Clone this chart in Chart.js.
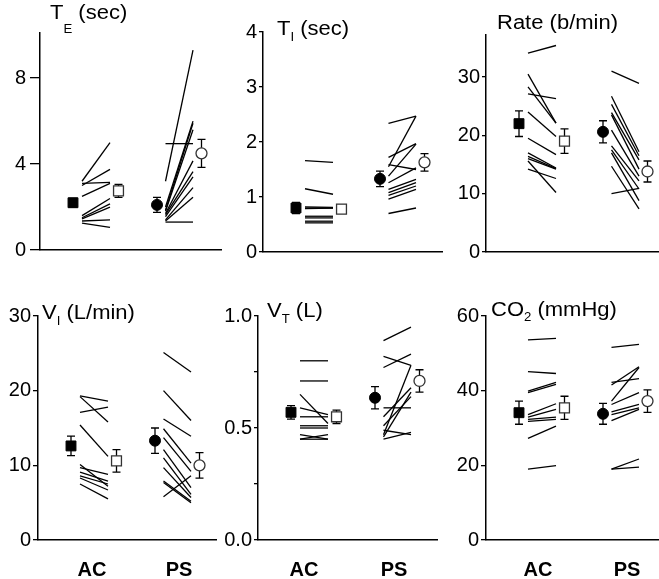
<!DOCTYPE html>
<html>
<head>
<meta charset="utf-8">
<script src="https://cdn.jsdelivr.net/npm/chart.js@4"></script>
<style>
  body { margin: 0; background: #fff; }
  #wrap { position: relative; width: 659px; height: 579px; overflow: hidden; font-family: "Liberation Sans", Arial, sans-serif; }
  canvas { position: absolute; }
  .title { position: absolute; font-size: 20px; line-height: 20px; color: #000; white-space: nowrap; transform: scaleX(1.1); transform-origin: left top; }
  .title sub { font-size: 12px; line-height: 0; }
</style>
</head>
<body>
<div id="wrap"></div>
<script>
const groups = ['AC', 'PS'];

// T_E (sec)
const teAcPre = [3.2, 3.1, 3.0, 2.5, 1.6, 1.5, 1.45, 1.35, 1.25];
const teAcPost = [5.0, 3.15, 3.75, 3.1, 2.4, 2.15, 2.0, 1.4, 1.05];
const tePsPre = [3.2, 4.95, 2.0, 1.85, 1.8, 1.7, 1.65, 1.55, 1.4, 1.35, 1.3];
const tePsPost = [9.3, 4.95, 6.0, 5.9, 5.6, 4.15, 3.65, 3.4, 2.9, 2.45, 1.3];
const teMean = [2.2, 2.75, 2.1, 4.5];
const teErr = [0.2, 0.3, 0.35, 0.65];
const teTicks = [0, 4, 8];

// T_I (sec)
const tiAcPre = [1.66, 1.15, 0.82, 0.80, 0.79, 0.65, 0.62, 0.56, 0.53];
const tiAcPost = [1.63, 1.05, 0.81, 0.80, 0.80, 0.65, 0.62, 0.56, 0.53];
const tiPsPre = [2.34, 1.55, 1.72, 1.38, 1.59, 1.26, 1.14, 1.08, 1.03, 0.96, 0.70];
const tiPsPost = [2.47, 2.47, 1.97, 1.96, 1.50, 1.53, 1.32, 1.26, 1.20, 1.14, 0.80];
const tiMean = [0.8, 0.78, 1.33, 1.63];
const tiErr = [0.1, 0.07, 0.14, 0.16];
const tiTicks = [0, 1, 2, 3, 4];

// Rate (b/min)
const rateAcPre = [34.1, 30.5, 28.3, 27.1, 24.0, 19.5, 17.0, 16.4, 16.0, 14.2, 15.6];
const rateAcPost = [35.4, 22.1, 22.1, 26.3, 19.8, 16.7, 14.4, 14.3, 14.2, 12.6, 10.2];
const ratePsPre = [31.0, 26.7, 25.3, 23.9, 23.5, 20.9, 18.2, 17.5, 17.0, 14.7, 10.0];
const ratePsPost = [28.9, 17.2, 16.5, 15.8, 14.2, 13.0, 12.2, 10.8, 8.8, 7.4, 10.9];
const rateMean = [22.0, 19.0, 20.6, 13.8];
const rateErr = [2.2, 2.1, 1.9, 1.8];
const rateTicks = [0, 10, 20, 30];

// V_I (L/min)
const viAcPre = [19.3, 19.2, 17.1, 15.4, 10.1, 9.7, 9.1, 8.6, 8.3, 7.5];
const viAcPost = [18.6, 15.8, 17.8, 11.2, 7.2, 8.8, 7.9, 7.5, 6.7, 5.5];
const viPsPre = [25.1, 20.0, 16.2, 14.9, 13.7, 12.1, 11.0, 9.7, 7.9, 5.8, 7.7];
const viPsPost = [22.5, 16.0, 13.9, 10.3, 9.2, 7.0, 6.1, 5.7, 5.2, 8.6, 5.0];
const viMean = [12.6, 10.6, 13.3, 10.0];
const viErr = [1.3, 1.5, 1.7, 1.7];
const viTicks = [0, 10, 20, 30];

// V_T (L)
const vtAcPre = [0.80, 0.71, 0.65, 0.59, 0.55, 0.51, 0.50, 0.47, 0.45, 0.45];
const vtAcPost = [0.80, 0.71, 0.52, 0.56, 0.55, 0.51, 0.50, 0.45, 0.47, 0.45];
const vtPsPre = [0.89, 0.82, 0.77, 0.59, 0.47, 0.55, 0.51, 0.49, 0.46, 0.45];
const vtPsPost = [0.95, 0.78, 0.83, 0.59, 0.78, 0.68, 0.64, 0.47, 0.66, 0.48];
const vtMean = [0.57, 0.55, 0.635, 0.71];
const vtErr = [0.03, 0.03, 0.05, 0.05];
const vtTicks = [0, 0.25, 0.5, 0.75, 1.0];

// CO2 (mmHg)
const co2AcPre = [53.6, 45.1, 39.9, 39.5, 33.6, 32.9, 32.3, 31.8, 27.2, 19.0];
const co2AcPost = [54.0, 44.6, 42.2, 41.7, 36.5, 35.0, 32.9, 32.3, 30.5, 19.9];
const co2PsPre = [51.6, 41.5, 37.2, 42.2, 36.3, 34.3, 33.6, 32.0, 19.0, 19.0];
const co2PsPost = [52.4, 46.4, 46.2, 43.2, 39.5, 36.3, 35.4, 35.0, 21.7, 19.5];
const co2Mean = [34.1, 35.4, 33.8, 37.2];
const co2Err = [3.1, 3.1, 2.8, 3.0];
const co2Ticks = [0, 20, 40, 60];

// horizontal positions inside a panel, in px from the y axis
const X = { acMean: 33, acA: 42, acB: 70, acOpen: 78.5, psMean: 117, psA: 125.5, psB: 153, psOpen: 161.5 };

const panels = [
  { title: 'T<sub style="vertical-align:-14px">E</sub> (sec)', tx: 50, ty: 2,
    left: 40, right: 222, top: 33, bottom: 258, max: 10.1, ticks: teTicks, tl: 10, tp: 4,
    acPre: teAcPre, acPost: teAcPost, psPre: tePsPre, psPost: tePsPost, mean: teMean, err: teErr },
  { title: 'T<sub style="vertical-align:-6px">I</sub> (sec)', tx: 277, ty: 18,
    left: 263, right: 443, top: 32, bottom: 258, max: 4, ticks: tiTicks, tl: 4, tp: 2,
    acPre: tiAcPre, acPost: tiAcPost, psPre: tiPsPre, psPost: tiPsPost, mean: tiMean, err: tiErr },
  { title: 'Rate (b/min)', tx: 497, ty: 12,
    left: 486, right: 659, top: 35, bottom: 258, max: 37.2, ticks: rateTicks, tl: 4, tp: 2,
    acPre: rateAcPre, acPost: rateAcPost, psPre: ratePsPre, psPost: ratePsPost, mean: rateMean, err: rateErr },
  { title: 'V<sub style="vertical-align:-6px">I</sub> (L/min)', tx: 42, ty: 302,
    left: 38, right: 217, top: 316, bottom: 540, max: 30, ticks: viTicks, tl: 5, tp: 2, labels: [54, 141],
    acPre: viAcPre, acPost: viAcPost, psPre: viPsPre, psPost: viPsPost, mean: viMean, err: viErr },
  { title: 'V<sub style="vertical-align:-6px">T</sub> (L)', tx: 267, ty: 300,
    left: 258, right: 438, top: 316, bottom: 540, max: 1.0, ticks: vtTicks, tl: 4, tp: 2, labels: [46, 136],
    dec: 1, major: [0, 0.5, 1.0],
    acPre: vtAcPre, acPost: vtAcPost, psPre: vtPsPre, psPost: vtPsPost, mean: vtMean, err: vtErr },
  { title: 'CO<sub style="vertical-align:-5px">2</sub> (mmHg)', tx: 491, ty: 299,
    left: 486, right: 659, top: 316, bottom: 540, max: 60, ticks: co2Ticks, tl: 5, tp: 2, labels: [52, 141],
    acPre: co2AcPre, acPost: co2AcPost, psPre: co2PsPre, psPost: co2PsPost, mean: co2Mean, err: co2Err }
];

const wrap = document.getElementById('wrap');

function makePanel(p) {
  const padTop = 16, yw = 45;
  const bh = p.labels ? 39 : 8;
  const canvas = document.createElement('canvas');
  canvas.width = p.right - p.left + yw;
  canvas.height = p.bottom - p.top + padTop + bh;
  canvas.style.left = (p.left - yw) + 'px';
  canvas.style.top = (p.top - padTop) + 'px';
  wrap.appendChild(canvas);

  const t = document.createElement('div');
  t.className = 'title';
  t.style.left = p.tx + 'px';
  t.style.top = p.ty + 'px';
  t.innerHTML = p.title;
  wrap.appendChild(t);

  const meanX = [X.acMean, X.acOpen, X.psMean, X.psOpen];
  const datasets = [
    { data: [{ x: meanX[0], y: p.mean[0] }], pointStyle: 'rect', pointRadius: 7, backgroundColor: '#000', borderColor: '#000', borderWidth: 1 },
    { data: [{ x: meanX[1], y: p.mean[1] }], pointStyle: 'rect', pointRadius: 7, backgroundColor: '#fff', borderColor: '#333', borderWidth: 1.3 },
    { data: [{ x: meanX[2], y: p.mean[2] }], pointStyle: 'circle', pointRadius: 5.5, backgroundColor: '#000', borderColor: '#000', borderWidth: 1 },
    { data: [{ x: meanX[3], y: p.mean[3] }], pointStyle: 'circle', pointRadius: 5.5, backgroundColor: '#fff', borderColor: '#333', borderWidth: 1.3 }
  ];
  p.acPre.forEach((v, i) => datasets.push({
    data: [{ x: X.acA, y: v }, { x: X.acB, y: p.acPost[i] }],
    showLine: true, pointRadius: 0, borderColor: '#000', borderWidth: 1.3
  }));
  p.psPre.forEach((v, i) => datasets.push({
    data: [{ x: X.psA, y: v }, { x: X.psB, y: p.psPost[i] }],
    showLine: true, pointRadius: 0, borderColor: '#000', borderWidth: 1.3
  }));

  const errorBars = {
    id: 'errorBars',
    beforeDatasetsDraw(chart) {
      const { ctx, scales: { x, y } } = chart;
      ctx.save();
      ctx.strokeStyle = '#000';
      ctx.lineWidth = 1.3;
      p.mean.forEach((m, i) => {
        const px = x.getPixelForValue(meanX[i]);
        const top = y.getPixelForValue(m + p.err[i]);
        const bot = y.getPixelForValue(m - p.err[i]);
        ctx.beginPath();
        ctx.moveTo(px, top); ctx.lineTo(px, bot);
        ctx.moveTo(px - 4, top); ctx.lineTo(px + 4, top);
        ctx.moveTo(px - 4, bot); ctx.lineTo(px + 4, bot);
        ctx.stroke();
      });
      ctx.restore();
    }
  };

  new Chart(canvas, {
    type: 'scatter',
    data: { datasets },
    options: {
      responsive: false,
      animation: false,
      layout: { autoPadding: false, padding: { top: padTop, right: 0, left: 0, bottom: 0 } },
      plugins: { legend: { display: false }, tooltip: { enabled: false } },
      scales: {
        x: {
          type: 'linear', min: 0, max: p.right - p.left,
          grid: { display: false, drawTicks: false },
          border: { display: true, color: '#000', width: 1.5 },
          afterBuildTicks: (axis) => { axis.ticks = (p.labels || []).map(v => ({ value: v })); },
          afterFit: (axis) => { axis.height = bh; },
          ticks: {
            display: !!p.labels, autoSkip: false, maxRotation: 0, padding: 18,
            color: '#000', font: { family: 'Liberation Sans', size: 20, weight: 'bold' },
            callback: (v, i) => groups[i]
          }
        },
        y: {
          min: 0, max: p.max,
          afterBuildTicks: (axis) => { axis.ticks = p.ticks.map(v => ({ value: v })); },
          afterFit: (axis) => { axis.width = yw; },
          grid: { drawOnChartArea: false, drawTicks: true, tickLength: p.tl, color: '#000', lineWidth: 1.3 },
          border: { display: true, color: '#000', width: 1.5 },
          ticks: {
            padding: p.tp, color: '#000', autoSkip: false,
            font: { family: 'Liberation Sans', size: 20 },
            callback: (v) => {
              if (p.major && !p.major.includes(v)) return '';
              return p.dec ? v.toFixed(p.dec) : String(v);
            }
          }
        }
      }
    },
    plugins: [errorBars]
  });
}

panels.forEach(makePanel);
</script>
</body>
</html>
